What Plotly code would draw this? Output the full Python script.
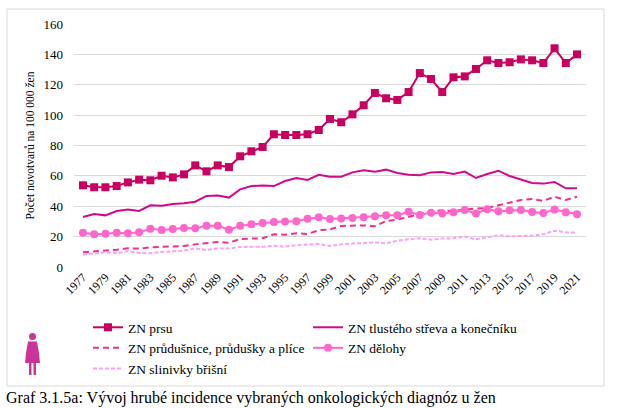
import plotly.graph_objects as go

# data
years = list(range(1977, 2022))

prsu = [53.8, 52.5, 52.5, 53.3, 55.7, 57.5, 57.1, 60.1, 59.0, 61.0,
        66.9, 63.0, 66.9, 65.8, 72.9, 76.2, 79.0, 87.4, 86.9, 86.9,
        87.4, 90.2, 97.5, 95.3, 100.5, 106.5, 114.6, 111.1, 110.0, 115.2,
        127.7, 123.8, 115.2, 124.9, 125.5, 130.4, 136.1, 134.3, 134.8, 136.7,
        136.1, 134.3, 144.0, 134.3, 140.0]

strevo = [32.9, 34.9, 34.0, 36.9, 37.8, 36.9, 40.6, 40.4, 41.5, 41.9,
          43.0, 46.8, 47.0, 45.7, 51.1, 53.3, 53.6, 53.3, 56.6, 58.6,
          57.3, 60.7, 59.5, 59.5, 62.3, 63.7, 62.8, 64.1, 61.9, 60.8,
          60.4, 62.3, 62.6, 61.2, 62.8, 58.6, 61.2, 63.4, 59.9, 57.7,
          55.3, 54.9, 56.0, 51.8, 51.8]

plice = [9.7, 10.1, 10.8, 11.4, 12.3, 12.1, 13.0, 13.2, 13.4, 13.8,
         14.9, 15.6, 16.5, 16.0, 18.4, 18.7, 18.9, 21.5, 21.3, 22.2,
         21.7, 24.2, 24.8, 27.0, 27.4, 27.4, 26.8, 30.3, 31.2, 33.1,
         35.3, 36.7, 37.3, 36.9, 38.0, 38.2, 38.9, 40.6, 42.6, 44.1,
         44.8, 43.5, 46.3, 44.1, 46.3]

deloha = [22.6, 21.5, 21.9, 22.6, 22.2, 22.8, 25.2, 24.4, 25.0, 25.7,
          25.5, 27.2, 27.2, 24.6, 27.2, 28.1, 29.0, 29.6, 29.9, 30.1,
          31.8, 32.7, 31.6, 32.0, 32.3, 32.7, 33.4, 34.0, 34.0, 36.4,
          34.2, 35.8, 35.3, 36.0, 37.5, 35.3, 38.0, 36.7, 37.3, 37.5,
          36.2, 35.6, 37.8, 36.0, 34.7]

slinivka = [8.1, 9.0, 9.7, 9.0, 10.5, 9.2, 9.0, 9.9, 10.5, 10.8,
            12.3, 11.2, 12.3, 12.1, 13.2, 13.2, 13.4, 14.0, 13.4, 14.3,
            14.9, 15.2, 13.8, 14.9, 15.4, 16.0, 16.2, 15.6, 17.3, 18.2,
            18.9, 18.0, 18.7, 18.9, 20.0, 18.2, 19.5, 20.9, 20.2, 20.2,
            20.6, 21.5, 23.9, 22.8, 22.6]

tick_years = list(range(1977, 2022, 2))

SERIF = "Liberation Serif, Times New Roman, serif"
W, H = 617, 408
L, R, T, B = 74, 31, 24, 141  # plot area 74..586 x 24..267


def px_x(px):
    return (px - L) / (W - L - R)


def px_y(py):
    return (H - B - py) / (H - T - B)


fig = go.Figure()

fig.add_trace(go.Scatter(
    x=years, y=prsu, name="ZN prsu", mode="lines+markers",
    line=dict(color="#C8005F", width=2),
    marker=dict(symbol="square", size=8, color="#C8005F"),
))
fig.add_trace(go.Scatter(
    x=years, y=strevo, name="ZN tlustého střeva a konečníku", mode="lines",
    line=dict(color="#D10A8C", width=2),
))
fig.add_trace(go.Scatter(
    x=years, y=plice, name="ZN průdušnice, průdušky a plíce", mode="lines",
    line=dict(color="#F0308C", width=2, dash="6px,4px"),
))
fig.add_trace(go.Scatter(
    x=years, y=deloha, name="ZN dělohy", mode="lines+markers",
    line=dict(color="#FF66CC", width=2),
    marker=dict(symbol="circle", size=8, color="#FF66CC"),
))
fig.add_trace(go.Scatter(
    x=years, y=slinivka, name="ZN slinivky břišní", mode="lines",
    line=dict(color="#FFA0F5", width=2, dash="4px,2px"),
))

# outer chart border
fig.add_shape(type="rect", xref="paper", yref="paper",
              x0=px_x(7), x1=px_x(604), y0=px_y(386), y1=px_y(9),
              line=dict(color="#D9D9D9", width=1), layer="below")

# woman icon
icon = "#CC3399"
fig.add_shape(type="circle", xref="paper", yref="paper",
              x0=px_x(29), x1=px_x(36), y0=px_y(340), y1=px_y(333),
              fillcolor=icon, line_width=0)
dress = "M {},{} L {},{} L {},{} L {},{} L {},{} L {},{} Z".format(
    px_x(28), px_y(341.5), px_x(37), px_y(341.5), px_x(39), px_y(353),
    px_x(40), px_y(363), px_x(25), px_y(363), px_x(26), px_y(353))
fig.add_shape(type="path", xref="paper", yref="paper", path=dress,
              fillcolor=icon, line_width=0)
fig.add_shape(type="rect", xref="paper", yref="paper",
              x0=px_x(29), x1=px_x(31.5), y0=px_y(375), y1=px_y(362),
              fillcolor=icon, line_width=0)
fig.add_shape(type="rect", xref="paper", yref="paper",
              x0=px_x(33.5), x1=px_x(36), y0=px_y(375), y1=px_y(362),
              fillcolor=icon, line_width=0)

fig.add_annotation(
    text="Graf 3.1.5a: Vývoj hrubé incidence vybraných onkologických diagnóz u žen",
    xref="paper", yref="paper", x=px_x(4), y=px_y(398),
    xanchor="left", yanchor="middle", showarrow=False,
    font=dict(family=SERIF, size=16, color="#000000"),
)

fig.update_layout(
    width=W, height=H,
    margin=dict(l=L, r=R, t=T, b=B, autoexpand=False),
    paper_bgcolor="white", plot_bgcolor="white",
    font=dict(family=SERIF, color="#000000"),
    showlegend=True,
    legend=dict(
        orientation="h", x=px_x(88), y=px_y(312), xanchor="left", yanchor="top",
        entrywidth=175, font=dict(family=SERIF, size=13.5, color="#000000"),
        itemclick=False, bgcolor="rgba(0,0,0,0)", tracegroupgap=0,
    ),
)

fig.update_xaxes(
    range=[1976.2, 2021.8], tickvals=tick_years, tickangle=-45,
    showgrid=False, zeroline=False, showline=False,
    tickfont=dict(family=SERIF, size=12, color="#000000"),
)
fig.update_yaxes(
    range=[0, 160], dtick=20, showgrid=True, gridcolor="#D9D9D9", gridwidth=1,
    zeroline=False, showline=False, ticklabelstandoff=10,
    tickfont=dict(family=SERIF, size=13, color="#000000"),
    title=dict(text="Počet novotvarů na 100 000 žen",
               font=dict(family=SERIF, size=11.5, color="#000000"), standoff=6),
)

# page body has a default 8px margin; drop it so the figure fills the window
fig.write_html("out.html", config={"displayModeBar": False},
               post_script="document.body.style.margin='0';")
